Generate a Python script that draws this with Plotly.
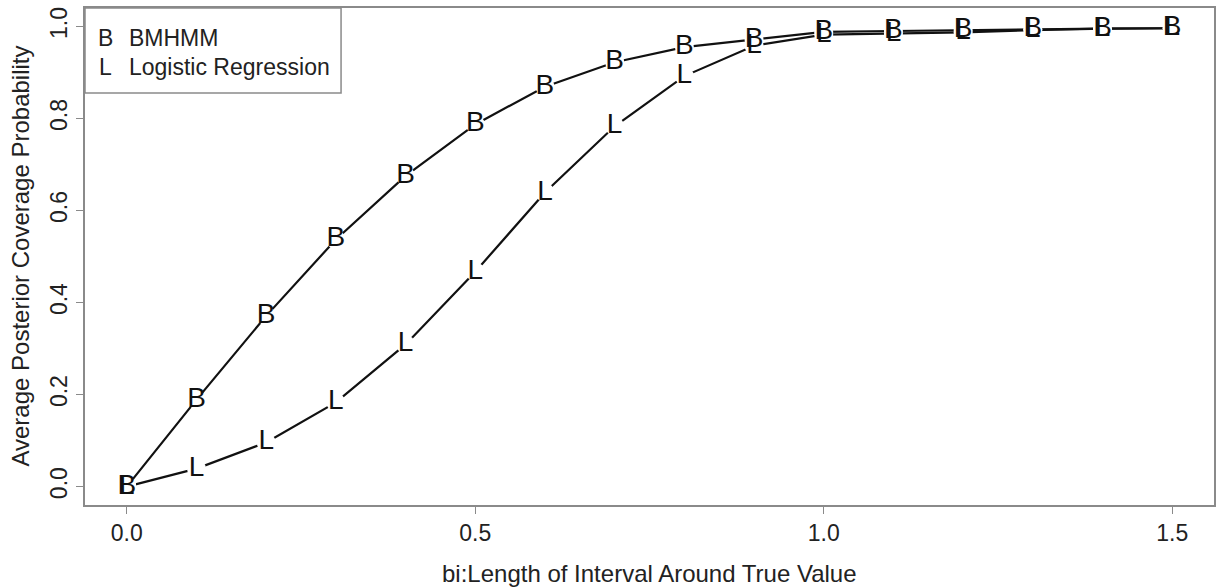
import plotly.graph_objects as go

x_vals = [0.0, 0.1, 0.2, 0.3, 0.4, 0.5, 0.6, 0.7, 0.8, 0.9, 1.0, 1.1, 1.2, 1.3, 1.4, 1.5]
bmhmm = [0.0, 0.189, 0.371, 0.537, 0.675, 0.787, 0.869, 0.922, 0.955, 0.971, 0.988, 0.990, 0.992, 0.994, 0.995, 0.996]
logistic = [0.0, 0.039, 0.096, 0.183, 0.309, 0.467, 0.639, 0.783, 0.892, 0.958, 0.982, 0.984, 0.987, 0.992, 0.995, 0.996]

series_names = ["BMHMM", "Logistic Regression"]
series_symbols = ["B", "L"]
x_ticks = [0.0, 0.5, 1.0, 1.5]
y_ticks = [0.0, 0.2, 0.4, 0.6, 0.8, 1.0]
x_title = "bi:Length of Interval Around True Value"
y_title = "Average Posterior Coverage Probability"

FONT = "Liberation Sans, Arial, sans-serif"
INK = "#111111"
TXT = "#222222"
AXIS = "#8a8a8a"

fig = go.Figure()
series = [logistic, bmhmm]
syms = [series_symbols[1], series_symbols[0]]

for ys in series:
    fig.add_trace(go.Scatter(x=x_vals, y=ys, mode="lines",
                             line=dict(color=INK, width=2.2),
                             hoverinfo="skip", showlegend=False))
for ys in series:
    fig.add_trace(go.Scatter(x=x_vals, y=ys, mode="markers",
                             marker=dict(color="white", size=19, symbol="circle",
                                         line=dict(width=0)),
                             hoverinfo="skip", showlegend=False))
for ys, s in zip(series, syms):
    fig.add_trace(go.Scatter(x=x_vals, y=ys, mode="text",
                             text=[s] * len(x_vals), textposition="middle center",
                             textfont=dict(family=FONT, size=28, color=INK),
                             hoverinfo="skip", showlegend=False))

fig.update_layout(
    width=1221, height=588,
    margin=dict(l=85, r=7, t=8, b=83, autoexpand=False),
    paper_bgcolor="white", plot_bgcolor="white",
    font=dict(family=FONT, size=23, color=TXT),
    showlegend=False,
)
fig.update_xaxes(
    range=[-0.06, 1.56], tickvals=x_ticks, ticktext=[f"{v:.1f}" for v in x_ticks],
    showgrid=False, zeroline=False, showline=True, linecolor=AXIS, linewidth=1.5,
    mirror=True, ticks="outside", ticklen=7, tickcolor=AXIS, tickwidth=1.2,
    automargin=False, tickfont=dict(size=23),
)
fig.update_yaxes(
    range=[-0.04, 1.04], tickvals=y_ticks, ticktext=[f"{v:.1f}" for v in y_ticks],
    tickangle=-90,
    showgrid=False, zeroline=False, showline=True, linecolor=AXIS, linewidth=1.5,
    mirror=True, ticks="outside", ticklen=7, tickcolor=AXIS, tickwidth=1.2,
    automargin=False, tickfont=dict(size=23),
)

fig.add_annotation(xref="paper", yref="paper", x=0.5, y=-0.137, text=x_title,
                   showarrow=False, xanchor="center", yanchor="middle",
                   font=dict(family=FONT, size=24, color=TXT))
fig.add_annotation(xref="paper", yref="paper", x=-0.0575, y=0.5, text=y_title,
                   textangle=-90, showarrow=False, xanchor="center", yanchor="middle",
                   font=dict(family=FONT, size=24, color=TXT))

fig.add_shape(type="rect", xref="paper", yref="paper",
              x0=0.0, x1=0.2268, y0=0.829, y1=1.0,
              line=dict(color=AXIS, width=1.5), fillcolor="white", layer="above")
rows_y = [0.9396, 0.881]
for name, sym, yy in zip(series_names, series_symbols, rows_y):
    fig.add_annotation(xref="paper", yref="paper", x=0.018, y=yy, text=sym,
                       showarrow=False, xanchor="center", yanchor="middle",
                       font=dict(family=FONT, size=23, color=TXT))
    fig.add_annotation(xref="paper", yref="paper", x=0.0372, y=yy, text=name,
                       showarrow=False, xanchor="left", yanchor="middle",
                       font=dict(family=FONT, size=23, color=TXT))

fig.write_html("out.html",
               config={"displayModeBar": False},
               post_script="document.body.style.margin='0';document.body.style.overflow='hidden';")
